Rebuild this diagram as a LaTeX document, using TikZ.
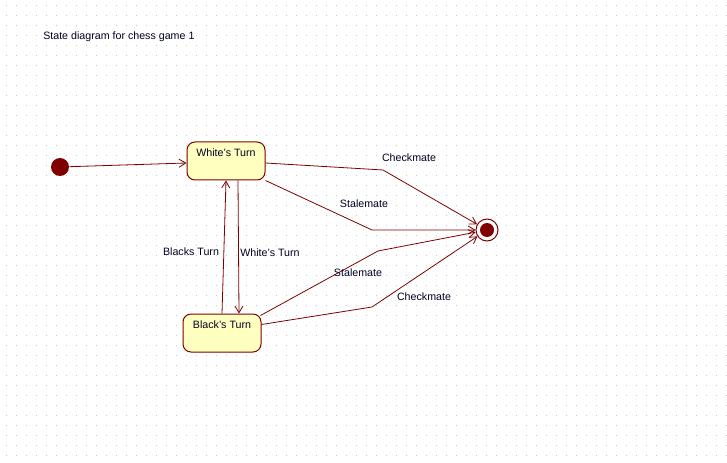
\documentclass[tikz,border=0pt]{standalone}
\usepackage{fontspec}
\setmainfont{Liberation Sans}
\usetikzlibrary{arrows.meta,calc}
\definecolor{umlred}{RGB}{128,0,0}
\definecolor{umlfill}{RGB}{255,255,192}
\definecolor{griddot}{RGB}{200,200,200}
\tikzset{
  statebox/.style={draw=umlred, fill=umlfill, line width=0.75pt, rounded corners=6pt,
    minimum width=58.5pt, minimum height=28.5pt, inner sep=0pt},
  txt/.style={font=\fontsize{8pt}{9pt}\selectfont, inner sep=0pt, text=black!85!blue},
  trans/.style={draw=umlred, line width=0.6pt, -{Straight Barb[length=5pt,width=6pt]}},
}
\begin{document}
\begin{tikzpicture}[x=0.75pt,y=-0.75pt]
\useasboundingbox (0,0) rectangle (727,463);
\fill[white] (0,0) rectangle (727,463);
\foreach \i in {0,...,72}{
  \foreach \j in {0,...,45}{
    \fill[griddot] (\i*10+6,\j*10+5) rectangle ++(1,1);
  }
}
\node[txt, anchor=west] (title) at (43,37) {State diagram for chess game 1};

\node[circle, fill=umlred, minimum size=13.5pt, inner sep=0pt] (init) at (60,167) {};
\node[statebox] (white) at (226,161) {};
\node[txt] (whitelbl) at (226,153) {White's Turn};
\node[statebox] (black) at (222,333) {};
\node[txt] (blacklbl) at (222,325) {Black's Turn};
\node[circle, draw=umlred, fill=white, line width=0.75pt, minimum size=16.5pt, inner sep=0pt] (final) at (487,230) {};
\node[circle, fill=umlred, minimum size=10.5pt, inner sep=0pt] (finalin) at (487,230) {};

\draw[trans] (init) -- (white.west |- 0,163);
\draw[trans] ($(white.east)+(0,2)$) -- (383,170) -- (final);
\draw[trans] (white.south east) -- (372,230) -- (final);
\draw[trans] (black.north) -- (white.south);
\draw[trans] ($(white.south)+(12,0)$) -- ($(black.north)+(17,0)$);
\draw[trans] ($(black.north east)+(-1,2)$) -- (378,251) -- (final);
\draw[trans] ($(black.north east)+(0,11)$) -- (372,307) -- (final);

\node[txt] (l1) at (409,158) {Checkmate};
\node[txt] (l2) at (364,204) {Stalemate};
\node[txt] (l3) at (191,252) {Blacks Turn};
\node[txt] (l4) at (270,253) {White's Turn};
\node[txt] (l5) at (358,273) {Stalemate};
\node[txt] (l6) at (424,297) {Checkmate};
\end{tikzpicture}
\end{document}
